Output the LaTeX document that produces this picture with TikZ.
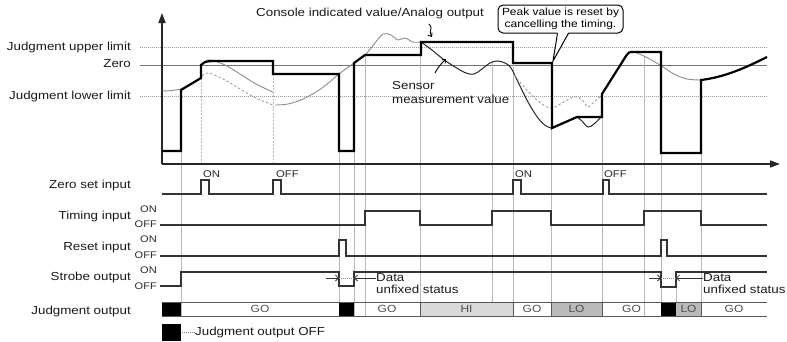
\documentclass[tikz,border=0pt]{standalone}
\usepackage{fontspec}
\setmainfont{Liberation Sans}[FakeStretch=1.15]
\usetikzlibrary{arrows.meta}
\begin{document}
\begin{tikzpicture}[x=1pt,y=-1pt,
  lbl/.style={font=\fontsize{11.6}{12}\selectfont, text=black!90, inner sep=0pt},
  onoff/.style={font=\fontsize{9.6}{10}\selectfont, text=black!85, inner sep=0pt, anchor=east},
  pulselbl/.style={font=\fontsize{9.8}{10}\selectfont, text=black!85, inner sep=0pt, anchor=west},
  barlbl/.style={font=\fontsize{10.4}{11}\selectfont, text=black!70, inner sep=0pt},
  guide/.style={draw=black!28, line width=0.8pt},
  dguide/.style={draw=black!28, line width=0.8pt, dash pattern=on 2pt off 1.5pt},
  limit/.style={draw=black!40, line width=0.8pt, dash pattern=on 1pt off 1pt},
  zeroline/.style={draw=black!55, line width=0.9pt},
  signal/.style={draw=black!80, line width=1.1pt},
  boldline/.style={draw=black, line width=2.2pt},
  sensor/.style={draw=black!45, line width=0.9pt},
  sensordark/.style={draw=black!85, line width=1pt},
  dsensor/.style={draw=black!38, line width=0.9pt, dash pattern=on 2.5pt off 2pt},
  axisline/.style={draw=black!85, line width=1.6pt},
  barline/.style={draw=black!65, line width=0.9pt},
  smallarrow/.style={draw=black!80, line width=0.8pt, -{Straight Barb[length=3pt,width=6pt]}},
]
\useasboundingbox (0,0) rectangle (787,341);

% ---------- reference lines ----------
\draw[limit] (140,47) -- (767,47);
\draw[zeroline] (140,65) -- (767,65);
\draw[limit] (140,96) -- (767,96);

% ---------- guide lines ----------
\draw[guide] (181,90) -- (181,316);
\draw[dguide] (201,78) -- (201,164);
\draw[dguide] (273,74) -- (273,164);
\draw[guide] (339,151) -- (339,316);
\draw[guide] (354,151) -- (354,316);
\draw[guide] (365,55) -- (365,316);
\draw[guide] (420,55) -- (420,316);
\draw[guide] (492,62) -- (492,316);
\draw[guide] (513,63) -- (513,316);
\draw[guide] (551,128) -- (551,316);
\draw[guide] (602,117) -- (602,316);
\draw[guide] (644,56) -- (644,316);
\draw[guide] (661,153) -- (661,316);
\draw[guide] (676,272) -- (676,316);
\draw[guide] (701,153) -- (701,316);

% ---------- axes ----------
\coordinate (O) at (162,164);
\coordinate (Ytop) at (162,13);
\coordinate (Xend) at (780,164);
\draw[axisline,-{Triangle[length=10pt,width=7pt]}] (O) -- (Ytop);
\draw[axisline,-{Triangle[length=10pt,width=7pt]}] (O) -- (Xend);

% ---------- sensor curves ----------
\draw[sensor] plot[smooth] coordinates {(162,91) (172,90.5) (181,89)} -- (201,78);
\draw[sensor] plot[smooth, tension=0.6] coordinates {(201,65) (206,61) (211,60) (225,65) (240,74) (256,84) (273,92)};
\draw[dsensor] plot[smooth, tension=0.6] coordinates {(202,76) (207,73) (212,74) (225,80) (240,89) (256,98) (273,105)};
\draw[sensor] plot[smooth, tension=0.6] coordinates {(275,105) (288,104) (303,99) (322,88) (339,74) (354,63) (365,55) (375,43) (383,34) (391,35) (398,40) (405,38) (413,42) (421,42)};
\draw[sensordark] plot[smooth, tension=0.6] coordinates {(421,42) (432,50) (443,59) (455,67) (466,73) (474,74) (482,69) (490,63) (497,61) (505,63) (511,68) (518,82) (528,102) (538,118) (546,126) (552,128)};
\draw[dsensor] plot[smooth, tension=0.6] coordinates {(514,75) (525,88) (537,100) (550,108) (562,103) (571,98) (578,97) (584,102) (588,107) (595,101) (602,95)};
\draw[sensordark] plot[smooth, tension=0.6] coordinates {(577,117) (582,121) (588,127) (594,124) (601,117)};
\draw[sensor] plot[smooth, tension=0.6] coordinates {(634,52) (646,57) (660,65) (674,74) (687,79) (701,80)};

% ---------- console indicated value / analog output ----------
\draw[boldline] (162,151) -- (181,151) -- (181,90) -- (201,78) -- (201,65)
  .. controls (205,61.5) .. (213,61) -- (273,61) -- (273,74) -- (339,74)
  -- (339,151) -- (354,151) -- (354,63) -- (365,55) -- (421,55) -- (421,42)
  -- (513,42) -- (513,63) -- (552,63) -- (552,128)
  .. controls (565,123) .. (577,117) -- (602,117) -- (602,94) -- (626,56)
  .. controls (629,52) .. (634,52) -- (661,52) -- (661,153) -- (701,153)
  -- (701,80) .. controls (725,77) and (745,68) .. (767,57);

% ---------- labels (top) ----------
\node[lbl, anchor=east] (lup) at (131,47) {Judgment upper limit};
\node[lbl, anchor=east] (lzero) at (131,64) {Zero};
\node[lbl, anchor=east] (llow) at (131,96) {Judgment lower limit};
\node[lbl, anchor=west] (console) at (256,13) {Console indicated value/Analog output};
\coordinate (consTip) at (432,37);
\draw[draw=black, line width=0.9pt, -{Straight Barb[length=3pt,width=5pt]}] (429,24) .. controls (434,28) and (428,31) .. (consTip);
\node[lbl, anchor=west, align=left, font=\fontsize{11.6}{14}\selectfont] (sensorlbl) at (392,93) {Sensor\\measurement value};
\coordinate (sensTip) at (446,59);
\draw[draw=black, line width=0.9pt, -{Straight Barb[length=3pt,width=5pt]}] (435,73) .. controls (439,66) .. (sensTip);

% callout
\node[draw=black, line width=1pt, rounded corners=5pt, fill=white, align=center,
      minimum width=125pt, minimum height=28pt, inner sep=1pt,
      font=\fontsize{10.4}{11.5}\selectfont] (callout) at (560.5,19) {Peak value is reset by\\cancelling the timing.};
\coordinate (calloutTip) at (553,61);
\fill[white] (557.6,32) -- (568.4,32) -- (calloutTip) -- cycle;
\draw[black, line width=1pt, line join=miter] (557.5,33.3) -- (calloutTip) -- (568.5,33.3);

% ---------- timing section labels ----------
\node[lbl, anchor=east] (zsl) at (131,185) {Zero set input};
\node[lbl, anchor=east] (til) at (131,216) {Timing input};
\node[onoff] (tion) at (157,209) {ON};
\node[onoff] (tioff) at (157,224) {OFF};
\node[lbl, anchor=east] (rsl) at (131,247) {Reset input};
\node[onoff] (rson) at (157,239) {ON};
\node[onoff] (rsoff) at (157,255) {OFF};
\node[lbl, anchor=east] (stl) at (131,277) {Strobe output};
\node[onoff] (ston) at (157,270) {ON};
\node[onoff] (stoff) at (157,286) {OFF};
\node[lbl, anchor=east] (jol) at (131,311) {Judgment output};

% pulse labels
\node[pulselbl] (zon1) at (203,174) {ON};
\node[pulselbl] (zoff1) at (276,174) {OFF};
\node[pulselbl] (zon2) at (515,174) {ON};
\node[pulselbl] (zoff2) at (604,174) {OFF};

% ---------- signals ----------
\draw[signal] (162,194) -- (201,194) -- (201,180) -- (209,180) -- (209,194)
  -- (273,194) -- (273,180) -- (281,180) -- (281,194) -- (513,194) -- (513,180)
  -- (521,180) -- (521,194) -- (603,194) -- (603,180) -- (609,180) -- (609,194) -- (767,194);
\draw[signal] (160,225) -- (365,225) -- (365,211) -- (420,211) -- (420,225)
  -- (492,225) -- (492,211) -- (551,211) -- (551,225) -- (644,225) -- (644,211)
  -- (701,211) -- (701,225) -- (767,225);
\draw[signal] (160,256) -- (339,256) -- (339,240) -- (346,240) -- (346,256)
  -- (661,256) -- (661,240) -- (667,240) -- (667,256) -- (767,256);
\draw[signal] (160,286) -- (181,286) -- (181,272) -- (339,272) -- (339,286)
  -- (354,286) -- (354,272) -- (661,272) -- (661,287) -- (676,287) -- (676,272) -- (767,272);

% data unfixed markers
\coordinate (u1a) at (339,278);
\coordinate (u1b) at (354,278);
\draw[smallarrow] (326,278) -- (u1a);
\draw[draw=black!45, line width=0.8pt, dash pattern=on 1pt off 1pt] (u1a) -- (u1b);
\node[lbl, anchor=west, align=left, font=\fontsize{11.6}{12}\selectfont] (du1) at (376,284) {Data\\unfixed status};
\draw[smallarrow] (du1.west |- u1b) -- (u1b);

\coordinate (u2a) at (661,278);
\coordinate (u2b) at (676,278);
\draw[smallarrow] (649,278) -- (u2a);
\draw[draw=black!45, line width=0.8pt, dash pattern=on 1pt off 1pt] (u2a) -- (u2b);
\node[lbl, anchor=west, align=left, font=\fontsize{11.6}{12}\selectfont] (du2) at (703,284) {Data\\unfixed status};
\draw[smallarrow] (du2.west |- u2b) -- (u2b);

% ---------- judgment bar ----------
\fill[black!15] (420,302) rectangle (513,316);
\fill[black!27] (551,302) rectangle (602,316);
\fill[black!27] (676,302) rectangle (701,316);
\fill[black] (162,302) rectangle (181,316);
\fill[black] (339,302) rectangle (354,316);
\fill[black] (661,302) rectangle (676,316);
\draw[barline] (162,302) -- (767,302);
\draw[barline] (162,316) -- (767,316);
\foreach \xx in {420,513,551,602,701} \draw[barline] (\xx,302) -- (\xx,316);
\node[barlbl] (b1) at (260,309) {GO};
\node[barlbl] (b2) at (387,309) {GO};
\node[barlbl] (b3) at (466.5,309) {HI};
\node[barlbl] (b4) at (532,309) {GO};
\node[barlbl] (b5) at (576.5,309) {LO};
\node[barlbl] (b6) at (631.5,309) {GO};
\node[barlbl] (b7) at (688.5,309) {LO};
\node[barlbl] (b8) at (734,309) {GO};

% legend
\fill[black] (162,324) rectangle (181,341);
\node[lbl, anchor=west] (legend) at (195,332) {Judgment output OFF};
\draw[draw=black!50, line width=0.8pt, dash pattern=on 1pt off 1pt] (182,332) -- (legend.west);

\end{tikzpicture}
\end{document}
